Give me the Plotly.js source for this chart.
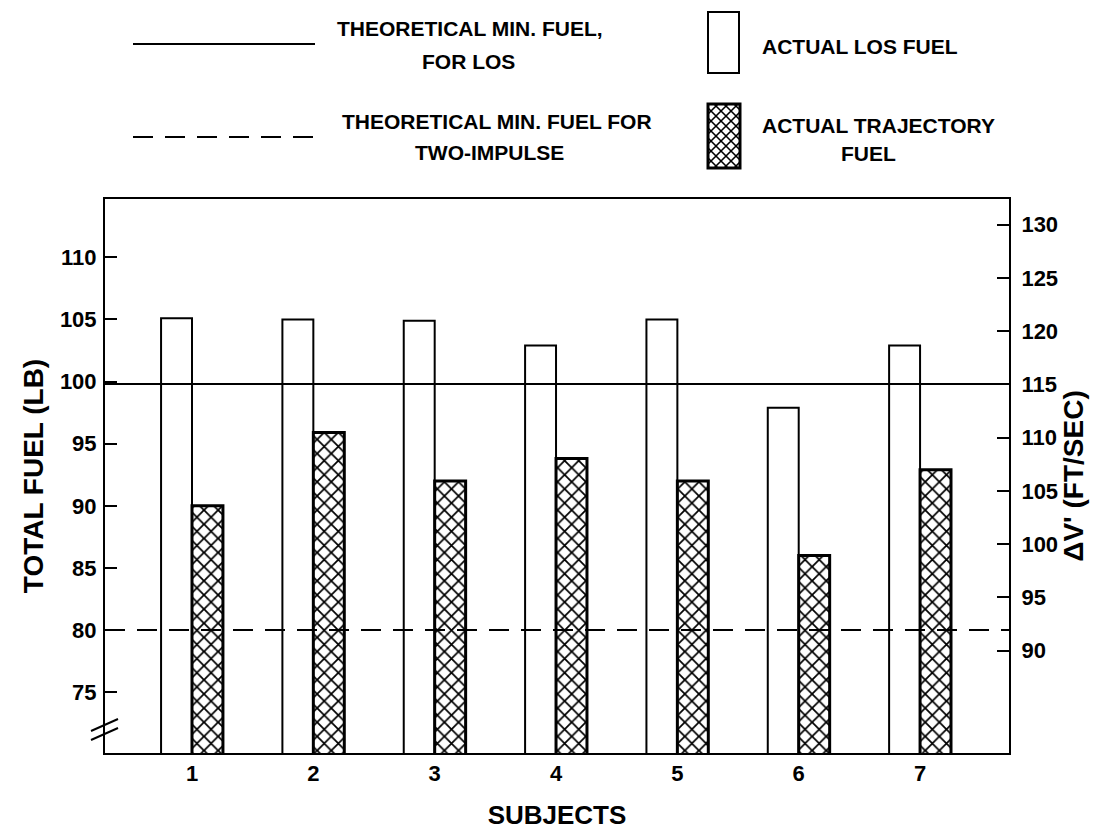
<!DOCTYPE html>
<html>
<head>
<meta charset="utf-8">
<script src="https://cdn.plot.ly/plotly-3.0.1.min.js"></script>
<style>html,body{margin:0;padding:0;background:#fff;}#chart{width:1098px;height:830px;}</style>
</head>
<body>
<div id="chart"></div>
<script>
// ---- data ----
const subjects = [1, 2, 3, 4, 5, 6, 7];
const subjectLabels = ['1', '2', '3', '4', '5', '6', '7'];
const actualLosFuel = [105.1, 105.0, 104.9, 102.9, 105.0, 97.9, 102.9];
const actualTrajectoryFuel = [90.0, 95.9, 92.0, 93.8, 92.0, 86.0, 92.9];
const theoreticalMinLos = 99.8;        // lb
const theoreticalMinTwoImpulse = 80;   // lb
const leftTicks = [75, 80, 85, 90, 95, 100, 105, 110];
const rightTicks = [90, 95, 100, 105, 110, 115, 120, 125, 130];

// ---- layout geometry (pixels) ----
const W = 1098, H = 830;
const L = 105, R = 1009, T = 199, B = 753;
const PW = R - L, PH = B - T;
const px = x => (x - L) / PW;
const py = y => (B - y) / PH;

const FONT = 'Liberation Sans, Arial, sans-serif';
const W8 = 'bold';

function hatchPath(x0, y0, x1, y1, s) {
  let d = '';
  for (let c = x0 - y1; c <= x1 - y0; c += s) {
    const ya = Math.max(y0, x0 - c), yb = Math.min(y1, x1 - c);
    if (yb > ya) d += `M${px(ya + c)},${py(ya)}L${px(yb + c)},${py(yb)}`;
  }
  for (let c = x0 + y0; c <= x1 + y1; c += s) {
    const ya = Math.max(y0, c - x1), yb = Math.min(y1, c - x0);
    if (yb > ya) d += `M${px(c - ya)},${py(ya)}L${px(c - yb)},${py(yb)}`;
  }
  return d;
}

const traces = [
  {
    type: 'bar', x: subjects, y: actualLosFuel, name: 'ACTUAL LOS FUEL',
    marker: { color: 'white', line: { color: 'black', width: 2 } },
    hoverinfo: 'skip'
  },
  {
    type: 'bar', x: subjects, y: actualTrajectoryFuel, name: 'ACTUAL TRAJECTORY FUEL',
    marker: {
      color: 'white', line: { color: 'black', width: 3 },
      pattern: { shape: 'x', fgcolor: 'black', bgcolor: 'white', size: 10, solidity: 0.32 }
    },
    hoverinfo: 'skip'
  },
  { type: 'scatter', x: [], y: [], yaxis: 'y2', showlegend: false, hoverinfo: 'skip' }
];

const shapes = [
  // reference lines through the y scale
  { type: 'line', xref: 'paper', x0: 0, x1: 1, yref: 'y', y0: theoreticalMinLos, y1: theoreticalMinLos,
    line: { color: 'black', width: 2 }, layer: 'above' },
  { type: 'line', xref: 'paper', x0: 0, x1: 1, yref: 'y', y0: theoreticalMinTwoImpulse, y1: theoreticalMinTwoImpulse,
    line: { color: 'black', width: 2, dash: '20px,12px' }, layer: 'above' },
  // axis break marks
  { type: 'line', xref: 'paper', yref: 'paper', x0: px(91), y0: py(731), x1: px(118), y1: py(719), line: { color: 'black', width: 2 } },
  { type: 'line', xref: 'paper', yref: 'paper', x0: px(91), y0: py(740), x1: px(118), y1: py(728), line: { color: 'black', width: 2 } },
  // legend samples
  { type: 'line', xref: 'paper', yref: 'paper', x0: px(133), y0: py(44), x1: px(315), y1: py(44), line: { color: 'black', width: 2 } },
  { type: 'line', xref: 'paper', yref: 'paper', x0: px(133), y0: py(137), x1: px(316), y1: py(137), line: { color: 'black', width: 2, dash: '20px,12px' } },
  { type: 'rect', xref: 'paper', yref: 'paper', x0: px(708), y0: py(12), x1: px(739), y1: py(73), line: { color: 'black', width: 2 }, fillcolor: 'white' },
  { type: 'path', xref: 'paper', yref: 'paper', path: hatchPath(708, 104, 740, 168, 10), line: { color: 'black', width: 1.6 } },
  { type: 'rect', xref: 'paper', yref: 'paper', x0: px(708), y0: py(104), x1: px(740), y1: py(168), line: { color: 'black', width: 3 } }
];

function txt(text, x, y, anchor) {
  return { text: text, xref: 'paper', yref: 'paper', x: px(x), y: py(y), xanchor: anchor || 'center', yanchor: 'middle',
    showarrow: false, font: { family: FONT, size: 21, weight: W8, color: 'black' } };
}
const annotations = [
  txt('THEORETICAL MIN. FUEL,', 470, 28),
  txt('FOR LOS', 468, 61),
  txt('ACTUAL LOS FUEL', 760, 46, 'left'),
  txt('THEORETICAL MIN. FUEL FOR', 497, 121),
  txt('TWO-IMPULSE', 489, 153),
  txt('ACTUAL TRAJECTORY', 760, 125, 'left'),
  txt('FUEL', 868, 154)
];

const tickFont = { family: FONT, size: 22, weight: W8, color: 'black' };
const titleFont = { family: FONT, size: 28, weight: W8, color: 'black' };

const layout = {
  width: W, height: H,
  margin: { l: L, r: W - R, t: T, b: H - B, pad: 0 },
  paper_bgcolor: 'white', plot_bgcolor: 'white',
  showlegend: false,
  barmode: 'group', bargap: 0.49, bargroupgap: 0,
  font: { family: FONT, color: 'black', size: 21 },
  xaxis: {
    range: [0.283, 7.733], tickvals: subjects, ticktext: subjectLabels,
    showgrid: false, zeroline: false, showline: true, linecolor: 'black', linewidth: 2, mirror: true,
    ticks: '', tickfont: tickFont,
    title: { text: 'SUBJECTS', font: { family: FONT, size: 26, weight: W8, color: 'black' }, standoff: 24 }
  },
  yaxis: {
    range: [70.1, 114.7], tickvals: leftTicks, ticktext: leftTicks.map(String),
    showgrid: false, zeroline: false, showline: true, linecolor: 'black', linewidth: 2,
    ticks: 'inside', ticklen: 12, tickwidth: 2, tickcolor: 'black', tickfont: tickFont, ticklabelstandoff: 2,
    title: { text: 'TOTAL FUEL (LB)', font: titleFont, standoff: 8 }
  },
  yaxis2: {
    overlaying: 'y', side: 'right', range: [80.4, 132.4], tickvals: rightTicks, ticktext: rightTicks.map(String),
    showgrid: false, zeroline: false, showline: true, linecolor: 'black', linewidth: 2,
    ticks: 'inside', ticklen: 12, tickwidth: 2, tickcolor: 'black', tickfont: tickFont, ticklabelstandoff: 6,
    title: { text: "ΔV' (FT/SEC)", font: titleFont, standoff: 6 }
  },
  shapes: shapes,
  annotations: annotations
};

Plotly.newPlot('chart', traces, layout, { staticPlot: true, displayModeBar: false });
</script>
</body>
</html>
